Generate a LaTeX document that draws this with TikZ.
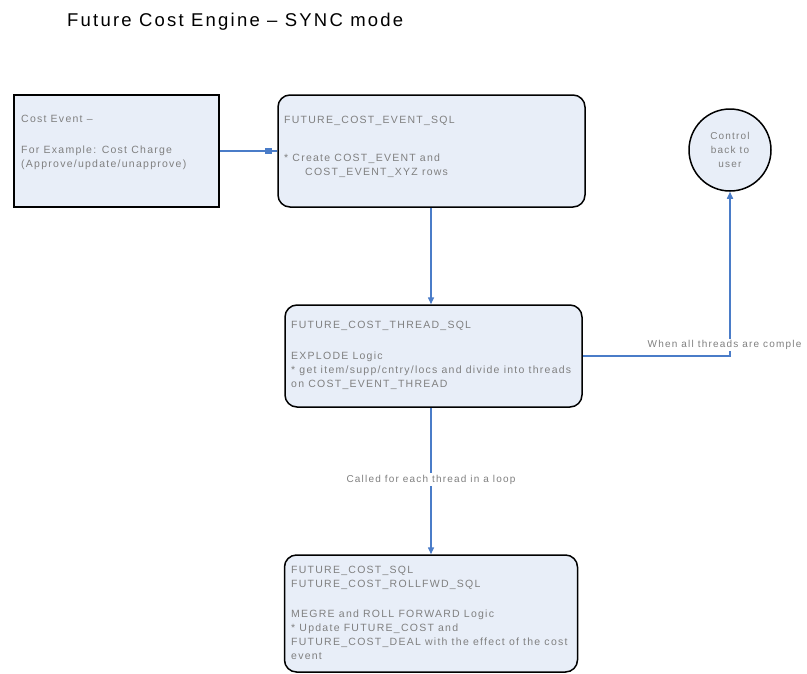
\documentclass[tikz,border=0pt]{standalone}
\usepackage{fontspec}
\setmainfont{Liberation Sans}[LetterSpace=12]
\usetikzlibrary{arrows.meta}
\definecolor{boxfill}{RGB}{232,238,248}
\definecolor{linkblue}{RGB}{74,124,200}
\definecolor{txtgray}{RGB}{128,128,128}
\begin{document}
\begin{tikzpicture}[x=1pt,y=-1pt,
  sqbox/.style={draw=black, line width=1.5pt, fill=boxfill, rectangle, inner sep=0pt},
  rbox/.style={sqbox, rounded corners=12pt},
  txt/.style={anchor=north west, align=left, text=txtgray, font=\fontsize{10.5}{14}\selectfont, inner sep=0pt},
  link/.style={draw=linkblue, line width=1.5pt, -{Triangle[length=7pt,width=6pt]}},
  plainlink/.style={draw=linkblue, line width=1.5pt},
  sqmark/.style={fill=linkblue, rectangle, minimum width=7pt, minimum height=6pt, inner sep=0pt},
  lbl/.style={fill=white, text=txtgray, font=\fontsize{10}{12}\selectfont, inner sep=1.5pt}
]
\useasboundingbox (0,0) rectangle (807,673);
\fill[white] (0,0) rectangle (807,673);

\node[anchor=base west, font=\fontsize{18.5}{22}\selectfont, inner sep=0pt] (title) at (67,26) {Future Cost Engine – SYNC mode};

\node[sqbox, minimum width=205pt, minimum height=112pt] (b1) at (116.5,151) {};
\node[txt] (t1) at (21,115) {Cost Event –\\[17pt]For Example: Cost Charge\\(Approve/update/unapprove)};

\node[rbox, minimum width=307pt, minimum height=112pt] (b2) at (431.5,151) {};
\node[txt] (t2) at (284,116) {FUTURE\_COST\_EVENT\_SQL\\[24pt]* Create COST\_EVENT and\\\hspace*{21pt}COST\_EVENT\_XYZ rows};

\node[draw=black, line width=1.5pt, fill=boxfill, circle, minimum size=82pt, inner sep=0pt, align=center, text=txtgray, font=\fontsize{10}{14}\selectfont] (c) at (730,150) {Control\\back to\\user};

\node[rbox, minimum width=297pt, minimum height=102pt] (b3) at (433.5,356) {};
\node[txt] (t3) at (291,321) {FUTURE\_COST\_THREAD\_SQL\\[17pt]EXPLODE Logic\\* get item/supp/cntry/locs and divide into threads\\on COST\_EVENT\_THREAD};

\node[rbox, minimum width=293pt, minimum height=117pt] (b4) at (431,613.5) {};
\node[txt] (t4) at (291,566) {FUTURE\_COST\_SQL\\FUTURE\_COST\_ROLLFWD\_SQL\\[16pt]MEGRE and ROLL FORWARD Logic\\* Update FUTURE\_COST and\\FUTURE\_COST\_DEAL with the effect of the cost\\event};

\draw[plainlink] (b1.east) -- node[pos=0.84, sqmark] (m) {} (b2.west);
\draw[link] (b4.north |- b2.south) -- (b4.north |- b3.north);
\draw[link] (b4.north |- b3.south) -- node[lbl, pos=0.49] (l2) {Called for each thread in a loop} (b4.north);
\draw[link] (b3.east) -| (c.south);
\node[lbl, anchor=west] (l1) at (646,345) {When all threads are comple};
\end{tikzpicture}
\end{document}
